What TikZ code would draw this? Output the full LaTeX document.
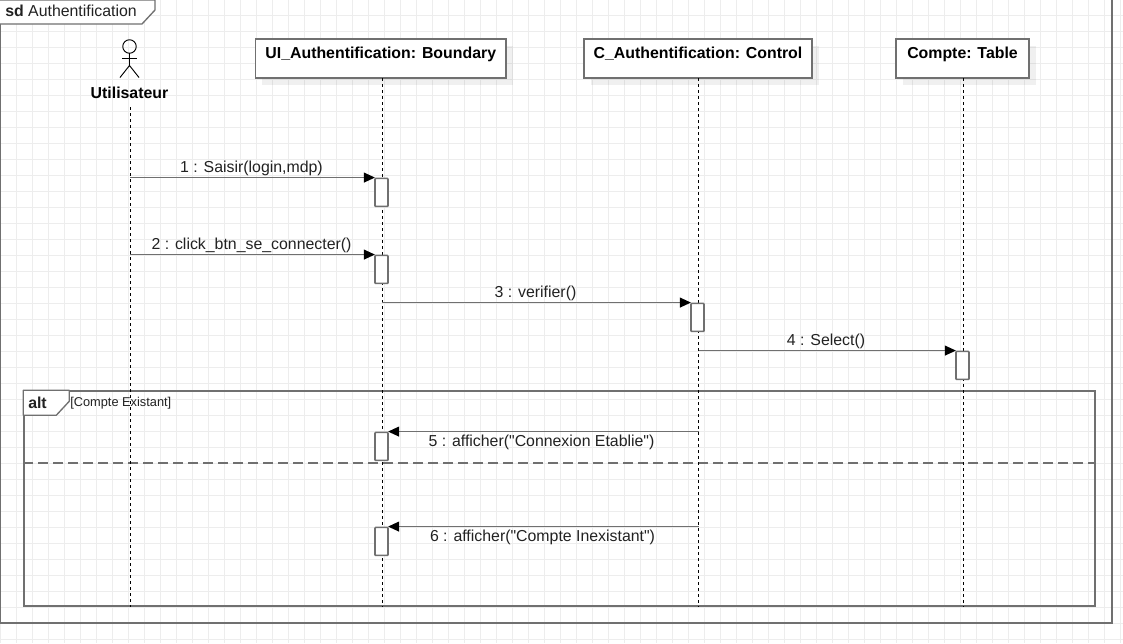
\documentclass[tikz,border=0pt]{standalone}
\usepackage{fontspec}
\setmainfont{Liberation Sans}[Ligatures=TeXOff]
\usetikzlibrary{arrows.meta, positioning, shadows, calc}
\definecolor{cLine}{HTML}{707070}
\definecolor{cGrid}{HTML}{EDEDED}
\definecolor{cText}{HTML}{222222}
\tikzset{
  gridline/.style={draw=cGrid, line width=0.6pt},
  framebox/.style={draw=cLine, line width=1.1pt},
  tagbox/.style={draw=cLine, line width=1pt, fill=white, line join=round},
  headbox/.style={rectangle, draw=cLine, line width=1.1pt, fill=white, inner xsep=0pt,
    inner ysep=3pt, text height=11.25pt, text depth=12pt, minimum height=29.25pt,
    font=\bfseries\fontsize{11.9}{13}\selectfont, text=black,
    general shadow={fill=black, opacity=0.06, shadow xshift=5.25pt, shadow yshift=-5.25pt}},
  actorlabel/.style={font=\bfseries\fontsize{11.9}{13}\selectfont, text=black, inner sep=0pt},
  actorline/.style={draw=black, line width=0.7pt},
  lifeline/.style={draw=black, line width=0.75pt, dash pattern=on 2.25pt off 2.25pt},
  activation/.style={rectangle, draw=cLine, line width=1.25pt, fill=white, rounded corners=0.6pt,
    minimum width=9.75pt, minimum height=21pt, inner sep=0pt},
  message/.style={draw=cLine, line width=1.25pt, shorten >=-0.6pt,
    -{Triangle[length=8.4pt, width=7.4pt, color=black]}},
  msglabel/.style={font=\fontsize{11.9}{13}\selectfont, text=cText, inner sep=0pt},
  guardlabel/.style={font=\fontsize{9.6}{11}\selectfont, text=cText, inner sep=0pt},
  operand/.style={draw=cLine, line width=1.1pt, dash pattern=on 7.5pt off 3.75pt},
}
\begin{document}
\begin{tikzpicture}[x=0.75pt, y=-0.75pt]
  \useasboundingbox (0,0) rectangle (1123,643);

  % ------------------------------------------------------------------
  % Paper grid
  % ------------------------------------------------------------------
  \fill[white] (0,0) rectangle (1123,643);
  \foreach \gx in {0,...,70} {
    \draw[gridline] (16*\gx+0.3,0) -- (16*\gx+0.3,643);
  }
  \foreach \gy in {1,...,40} {
    \draw[gridline] (0,16*\gy-0.3) -- (1123,16*\gy-0.3);
  }

  % ------------------------------------------------------------------
  % Outer sd frame
  % ------------------------------------------------------------------
  \draw[framebox] (0.5,0) -- (0.5,623) -- (1112,623) -- (1112,0);
  \draw[tagbox] (0,0) -- (155,0) -- (155,10) -- (142,24) -- (0,24);
  \node[msglabel, anchor=base west] (sdtag) at (5,16) {\textbf{sd} Authentification};

  % ------------------------------------------------------------------
  % Alt fragment
  % ------------------------------------------------------------------
  \node[rectangle, draw=cLine, line width=1.1pt, minimum width=803.25pt, minimum height=161.25pt,
        inner sep=0pt] (altframe) at (559.5,498.5) {};
  \draw[tagbox] (altframe.north west) -- ++(46,0) -- ++(0,11) -- ++(-13,14) -- ++(-33,0) -- cycle;
  \node[msglabel, anchor=base west, font=\bfseries\fontsize{11.9}{13}\selectfont]
    (alttag) at (28,408) {alt};
  \node[guardlabel, anchor=west] (guard) at (70,403) {[Compte Existant]};
  \draw[operand] (altframe.west |- 0,463) -- (altframe.east |- 0,463);

  % ------------------------------------------------------------------
  % Participants
  % ------------------------------------------------------------------
  \node[actorlabel] (user) at (129.5,93) {Utilisateur};
  \node[headbox, minimum width=187.9pt] (ui) at (380.75,58.5) {UI\_Authentification: Boundary};
  \node[headbox, minimum width=171pt] (ctrl) at (698,58.5) {C\_Authentification: Control};
  \node[headbox, minimum width=99.75pt] (compte) at (962.5,58.5) {Compte: Table};

  \draw[actorline] (129.5,46.5) circle (6.75);
  \draw[actorline] (129.5,53.25) -- (129.5,65.5);
  \draw[actorline] (122,58) -- (137,58);
  \draw[actorline] (120,77.5) -- (129.5,65.5) -- (139,77.5);

  % ------------------------------------------------------------------
  % Activation bars
  % ------------------------------------------------------------------
  \coordinate (userline) at (130,107);
  \coordinate (uiline) at (382,78);
  \coordinate (ctrlline) at (698.5,78);
  \coordinate (compteline) at (963.5,78);

  \draw[lifeline] (userline) -- (userline |- altframe.south);
  \draw[lifeline] (uiline) -- (uiline |- altframe.south);
  \draw[lifeline] (ctrlline) -- (ctrlline |- altframe.south);
  \draw[lifeline] (compteline) -- (compteline |- altframe.south);

  \node[activation] (act1) at (381.5,192.4) {};
  \node[activation] (act2) at (381.5,269.4) {};
  \node[activation] (act3) at (697.5,317.4) {};
  \node[activation] (act4) at (962.5,365.4) {};
  \node[activation] (act5) at (381.5,446.4) {};
  \node[activation] (act6) at (381.5,541.4) {};

  % ------------------------------------------------------------------
  % Messages
  % ------------------------------------------------------------------
  \draw[message] (userline |- act1.north) -- (act1.north west);
  \draw[message] (userline |- act2.north) -- (act2.north west);
  \draw[message] (uiline |- act3.north) -- (act3.north west);
  \draw[message] (ctrlline |- act4.north) -- (act4.north west);
  \draw[message] (ctrlline |- act5.north) -- (act5.north east);
  \draw[message] (ctrlline |- act6.north) -- (act6.north east);

  \node[msglabel] (msg1) at (251.5,168) {1 : Saisir(login,mdp)};
  \node[msglabel] (msg2) at (251.5,245) {2 : click\_btn\_se\_connecter()};
  \node[msglabel] (msg3) at (535.5,293) {3 : verifier()};
  \node[msglabel] (msg4) at (826,341) {4 : Select()};
  \node[msglabel] (msg5) at (541.5,442) {5 : afficher("Connexion Etablie")};
  \node[msglabel] (msg6) at (542.5,537) {6 : afficher("Compte Inexistant")};

\end{tikzpicture}
\end{document}
